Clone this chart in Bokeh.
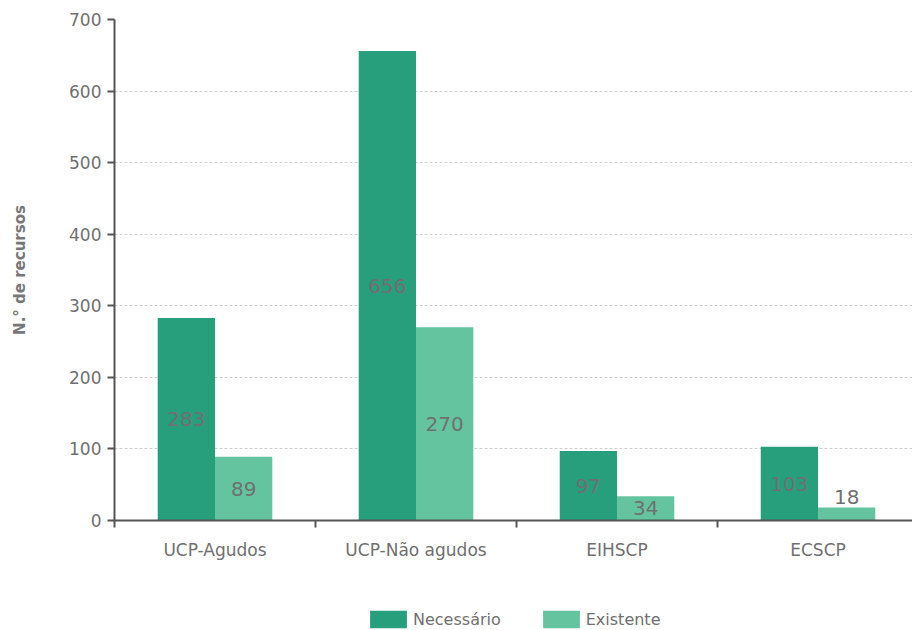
from bokeh.plotting import figure
from bokeh.layouts import column
from bokeh.models import ColumnDataSource, FixedTicker, Legend, LegendItem, LabelSet, Range1d
from bokeh.embed import file_html
from bokeh.resources import INLINE
from bokeh.core.properties import value

categories = ["UCP-Agudos", "UCP-Não agudos", "EIHSCP", "ECSCP"]
necessario = [283, 656, 97, 103]
existente = [89, 270, 34, 18]
y_ticks = [0, 100, 200, 300, 400, 500, 600, 700]
series_names = ["Necessário", "Existente"]
colors = ["#279F7C", "#64C4A0"]

FONT = "DejaVu Sans"
TXT = "#707070"
bw = 0.285
centers = [i + 0.5 for i in range(len(categories))]
series = [necessario, existente]

p = figure(frame_width=798, frame_height=501, output_backend="svg", toolbar_location=None,
           x_range=Range1d(0, 3.97), y_range=Range1d(0, 700),
           min_border_left=114, min_border_right=0, min_border_top=19, min_border_bottom=70)
p.outline_line_color = None
p.xgrid.grid_line_color = None
p.ygrid.grid_line_color = "#cfcfcf"
p.ygrid.grid_line_dash = "3 2"
p.ygrid.grid_line_width = 1

for k, (vals, off) in enumerate([(necessario, -bw / 2), (existente, bw / 2)]):
    lab_y = [v / 2 if v >= 30 else v for v in vals]
    lab_off = [0 if v >= 30 else 11 for v in vals]
    src = ColumnDataSource(dict(x=[c + off for c in centers], top=vals,
                                ly=lab_y, lo=lab_off, txt=[str(v) for v in vals]))
    p.vbar(x="x", top="top", bottom=0, width=bw, source=src,
           fill_color=colors[k], line_color=None)
    ls = LabelSet(x="x", y="ly", text="txt", y_offset="lo", source=src,
                  text_align="center", text_baseline="middle",
                  text_font=value(FONT), text_font_size="20px", text_color=TXT)
    p.add_layout(ls)

# x axis: labels at centers, tick marks at category boundaries
xax = p.xaxis[0]
xax.ticker = FixedTicker(ticks=centers, minor_ticks=[0, 1, 2, 3, 4])
xax.major_label_overrides = {c: cat for c, cat in zip(centers, categories)}
xax.major_tick_line_color = None
xax.minor_tick_out = 7
xax.minor_tick_in = 0
xax.minor_tick_line_color = "#555555"
xax.minor_tick_line_width = 2
xax.axis_line_color = "#555555"
xax.axis_line_width = 2
xax.major_label_text_font = FONT
xax.major_label_text_font_size = "17px"
xax.major_label_text_color = TXT
xax.major_label_standoff = 12

yax = p.yaxis[0]
yax.ticker = FixedTicker(ticks=y_ticks, minor_ticks=[])
yax.major_tick_out = 7
yax.major_tick_in = 0
yax.major_tick_line_color = "#555555"
yax.major_tick_line_width = 2
yax.axis_line_color = "#555555"
yax.axis_line_width = 2
yax.major_label_text_font = FONT
yax.major_label_text_font_size = "17px"
yax.major_label_text_color = TXT
yax.major_label_standoff = 6
yax.axis_label = "N.° de recursos"
yax.axis_label_text_font = FONT
yax.axis_label_text_font_style = "bold"
yax.axis_label_text_font_size = "15px"
yax.axis_label_text_color = "#777777"
yax.axis_label_standoff = 37

# legend strip below the chart (hidden renderers only feed the legend swatches)
pl = figure(width=912, height=40, output_backend="svg", toolbar_location=None,
            x_range=Range1d(0, 1), y_range=Range1d(0, 1),
            x_axis_type=None, y_axis_type=None,
            min_border_left=0, min_border_right=0, min_border_top=0, min_border_bottom=0)
pl.outline_line_color = None
pl.xgrid.grid_line_color = None
pl.ygrid.grid_line_color = None
leg_renderers = [pl.vbar(x=centers, top=series[i], width=bw, fill_color=colors[i],
                         line_color=None, visible=False)
                 for i in range(2)]
legend = Legend(items=[LegendItem(label=series_names[i], renderers=[leg_renderers[i]]) for i in range(2)],
                orientation="horizontal", location=(251, 0),
                glyph_width=46, glyph_height=22, spacing=37, label_standoff=2,
                label_text_font=FONT, label_text_font_size="16px", label_text_color=TXT,
                border_line_color=None, background_fill_alpha=0,
                inactive_fill_alpha=0, click_policy="none",
                padding=0, margin=0)
pl.add_layout(legend)

layout = column(p, pl, spacing=0)
open("out.html", "w").write(file_html(layout, INLINE))
